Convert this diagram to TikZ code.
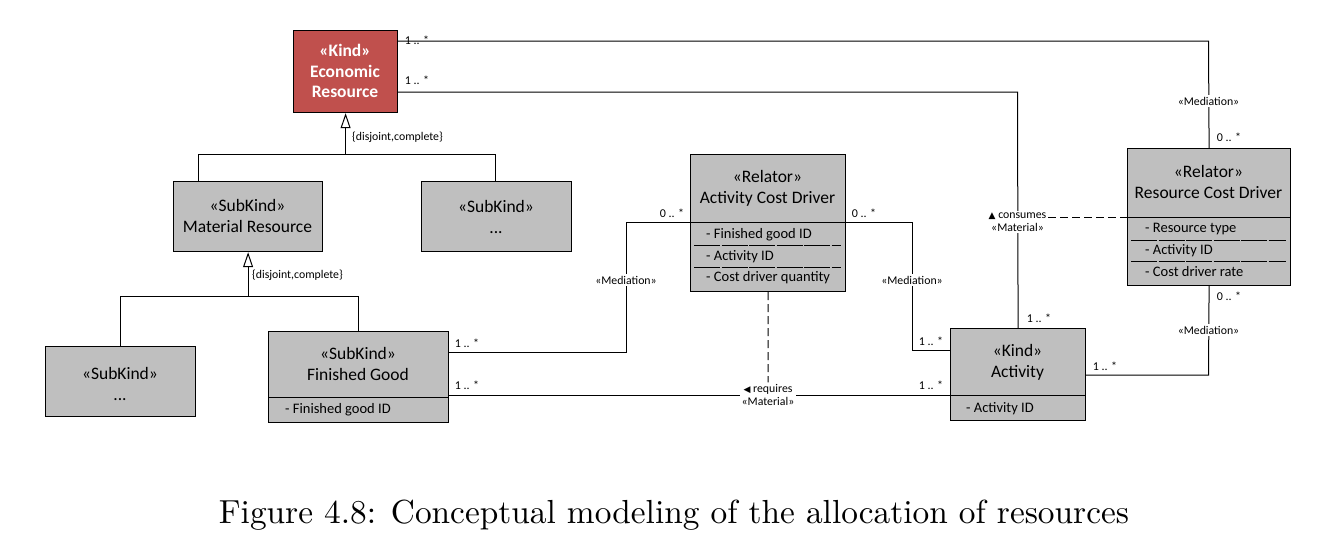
\documentclass[tikz,border=0pt]{standalone}
\usepackage{fontspec}
\usepackage{graphicx}
\newfontfamily\carl{Carlito}
\newfontfamily\symf{DejaVu Sans}
\usetikzlibrary{arrows.meta}
\definecolor{clsgray}{HTML}{BFBFBF}
\definecolor{ered}{HTML}{C0504D}
\begin{document}
\begin{tikzpicture}[x=1pt,y=-1pt,
  cls/.style={draw, fill=clsgray, line width=1.2pt, anchor=north west, inner sep=0pt},
  ttl/.style={font=\carl\fontsize{17.5}{21}\selectfont, align=center, inner sep=0pt},
  attr/.style={font=\carl\fontsize{14.5}{17}\selectfont, anchor=west, inner sep=0pt},
  lbl/.style={font=\carl\fontsize{11.8}{13.5}\selectfont, inner sep=1pt},
  mlt/.style={font=\carl\fontsize{12}{14}\selectfont, inner sep=1pt},
  wlbl/.style={lbl, fill=white, align=center, inner sep=1.5pt},
  conn/.style={line width=1pt},
  gen/.style={conn, -{Triangle[open, length=15pt, width=10pt, line width=1pt]}},
  sep/.style={line width=1pt},
  asep/.style={line width=1pt, dash pattern=on 26pt off 1.5pt},
  dsh/.style={line width=1pt, dash pattern=on 8pt off 4pt}]
\useasboundingbox (0,0) rectangle (1326,544);
\fill[white] (0,0) rectangle (1326,544);

% boxes
\node[cls, fill=ered, minimum width=104pt, minimum height=82pt] (ER) at (293,30) {};
\node[ttl, text=white, font=\carl\bfseries\fontsize{17.5}{20.5}\selectfont] (ERt) at (345,71) {«Kind»\\Economic\\Resource};

\node[cls, minimum width=149pt, minimum height=70pt] (MR) at (173,181) {};
\node[ttl] (MRt) at (247.5,216) {«SubKind»\\Material Resource};

\node[cls, minimum width=150pt, minimum height=70pt] (SK1) at (421,181) {};
\node[ttl] (SK1t) at (496,217) {«SubKind»\\...};

\node[cls, minimum width=150pt, minimum height=70pt] (SK2) at (45,346) {};
\node[ttl] (SK2t) at (120,384) {«SubKind»\\...};

\node[cls, minimum width=180pt, minimum height=91pt] (FG) at (268,331) {};
\node[ttl] (FGt) at (358,364) {«SubKind»\\Finished Good};
\draw[sep] (268,397) -- (448,397);
\node[attr] (FGa) at (285,410) {- Finished good ID};

\node[cls, minimum width=155pt, minimum height=137pt] (ACD) at (690,154) {};
\node[ttl] (ACDt) at (767.5,188) {«Relator»\\Activity Cost Driver};
\draw[sep] (690,222) -- (845,222);
\draw[asep] (694,245) -- (841,245);
\draw[asep] (694,267) -- (841,267);
\node[attr] (ACDa1) at (706,235) {- Finished good ID};
\node[attr] (ACDa2) at (706,257) {- Activity ID};
\node[attr] (ACDa3) at (706,278) {- Cost driver quantity};

\node[cls, minimum width=163pt, minimum height=137pt] (RCD) at (1127,148) {};
\node[ttl] (RCDt) at (1208.5,182) {«Relator»\\Resource Cost Driver};
\draw[sep] (1127,217) -- (1290,217);
\draw[asep] (1131,240) -- (1286,240);
\draw[asep] (1131,261) -- (1286,261);
\node[attr] (RCDa1) at (1145,229) {- Resource type};
\node[attr] (RCDa2) at (1145,251) {- Activity ID};
\node[attr] (RCDa3) at (1145,272) {- Cost driver rate};

\node[cls, minimum width=135pt, minimum height=92pt] (ACT) at (950,328) {};
\node[ttl] (ACTt) at (1017.5,362) {«Kind»\\Activity};
\draw[sep] (950,395) -- (1085,395);
\node[attr] (ACTa) at (966,409) {- Activity ID};

% generalizations
\coordinate (g1) at (198,154);
\coordinate (g2) at (495,154);
\coordinate (g3) at (120,296);
\coordinate (g4) at (358,296);
\draw[conn] (MR.north -| g1) -- (g1) -- (g2) -- (SK1.north -| g2);
\draw[gen] (ER.south |- g1) -- (ER.south);
\node[lbl, anchor=west] (dc1) at (351,137) {\{disjoint,complete\}};
\draw[conn] (SK2.north -| g3) -- (g3) -- (g4) -- (FG.north -| g4);
\draw[gen] (MR.south |- g3) -- (MR.south);
\node[lbl, anchor=west] (dc2) at (251,275) {\{disjoint,complete\}};

% ER -> RCD
\coordinate (c1) at (1208.5,41);
\draw[conn] (ER.east |- c1) -- (c1) -- (RCD.north);
\node[mlt] (m1a) at (417,40) {1 .. *};
\node[wlbl] (m1b) at (1208.5,101) {«Mediation»};
\node[mlt] (m1c) at (1229,137) {0 .. *};

% ER -> Activity
\coordinate (c2) at (1017.5,92);
\draw[conn] (ER.east |- c2) -- (c2) -- (ACT.north);
\node[mlt] (m2a) at (417,80) {1 .. *};
\node[mlt] (m2b) at (1039,318) {1 .. *};
\node[wlbl] (cons) at (1017.5,222) {{\symf\fontsize{9}{10}\selectfont ▲} consumes\\«Material»};
\draw[dsh] (cons.east |- RCD.west) -- (RCD.west);

% FG -> ACD
\coordinate (c3) at (626,352);
\coordinate (c3b) at (626,222);
\draw[conn] (FG.east |- c3) -- (c3) -- (c3b) -- (c3b -| ACD.west);
\node[mlt] (m3a) at (467,343) {1 .. *};
\node[wlbl] (m3b) at (626,280) {«Mediation»};
\node[mlt] (m3c) at (672,213) {0 .. *};

% ACD -> Activity
\coordinate (c4) at (912,222);
\coordinate (c4b) at (912,350);
\draw[conn] (ACD.east |- c4) -- (c4) -- (c4b) -- (c4b -| ACT.west);
\node[mlt] (m4a) at (864,213) {0 .. *};
\node[wlbl] (m4b) at (912,280) {«Mediation»};
\node[mlt] (m4c) at (931,341) {1 .. *};

% FG -> Activity
\coordinate (c5) at (768,395);
\draw[conn] (FG.east |- c5) -- (ACT.west |- c5);
\node[mlt] (m5a) at (467,385) {1 .. *};
\node[mlt] (m5b) at (931,385) {1 .. *};
\node[wlbl] (req) at (768,395) {{\symf\fontsize{9}{10}\selectfont ◀} requires\\«Material»};
\draw[dsh] (ACD.south) -- (req.north);

% Activity -> RCD
\coordinate (c6) at (1208.5,375);
\draw[conn] (ACT.east |- c6) -- (c6) -- (RCD.south);
\node[mlt] (m6a) at (1105,366) {1 .. *};
\node[wlbl] (m6b) at (1208.5,330) {«Mediation»};
\node[mlt] (m6c) at (1229,296) {0 .. *};

% caption
\node (cap) at (674,515) {\resizebox{910pt}{!}{Figure 4.8: Conceptual modeling of the allocation of resources}};
\end{tikzpicture}
\end{document}
